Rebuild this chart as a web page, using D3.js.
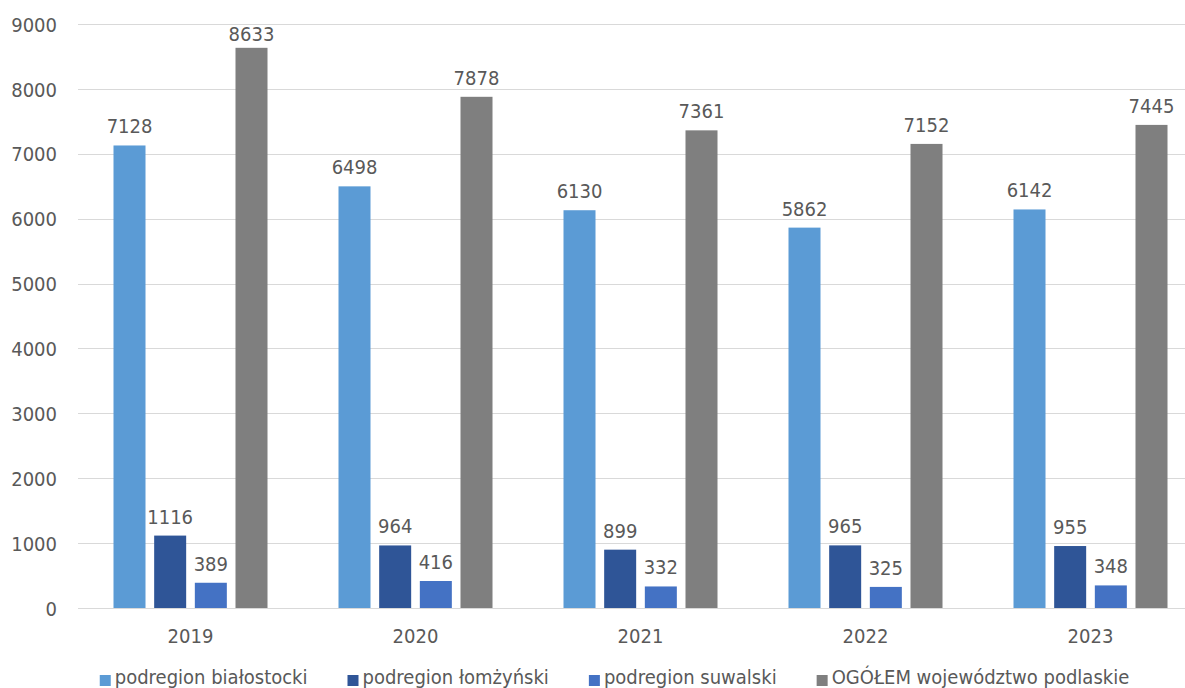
<!DOCTYPE html>
<html>
<head>
<meta charset="utf-8">
<script src="https://cdn.jsdelivr.net/npm/d3@7"></script>
<style>
  html, body { margin: 0; padding: 0; background: #ffffff; }
  svg { display: block; }
  text { font-family: "DejaVu Sans", Verdana, sans-serif; font-stretch: condensed; fill: #595959; }
</style>
</head>
<body>
<svg id="chart" width="1185" height="688"></svg>
<script>
// Years on the category axis
const years = ["2019", "2020", "2021", "2022", "2023"];

// Series names (legend order)
const seriesNames = [
  "podregion białostocki",
  "podregion łomżyński",
  "podregion suwalski",
  "OGÓŁEM województwo podlaskie"
];

// Values per series, one per year
const bialostocki = [7128, 6498, 6130, 5862, 6142];
const lomzynski   = [1116, 964, 899, 965, 955];
const suwalski    = [389, 416, 332, 325, 348];
const ogolem      = [8633, 7878, 7361, 7152, 7445];

// Y-axis ticks
const yTicks = [0, 1000, 2000, 3000, 4000, 5000, 6000, 7000, 8000, 9000];

const seriesColors = ["#5B9BD5", "#2F5597", "#4472C4", "#7F7F7F"];
const seriesValues = [bialostocki, lomzynski, suwalski, ogolem];

const svg = d3.select("#chart");
const plotTop = 24, plotBottom = 608;
const plotLeft = 78, plotRight = 1203;

const x0 = d3.scaleBand().domain(years).range([plotLeft, plotRight]).paddingInner(0).paddingOuter(0);
const groupW = 154;
const x1 = d3.scaleBand().domain(d3.range(seriesNames.length))
  .range([0, groupW]).paddingInner(0.213).paddingOuter(0);
const y = d3.scaleLinear().domain([0, 9000]).range([plotBottom, plotTop]);

const fontSize = 20;

// Gridlines
svg.append("g").selectAll("line").data(yTicks).join("line")
  .attr("x1", plotLeft).attr("x2", plotRight)
  .attr("y1", d => Math.round(y(d)) + 0.5).attr("y2", d => Math.round(y(d)) + 0.5)
  .attr("stroke", "#D9D9D9").attr("stroke-width", 1);

// Y axis labels
const yAxis = d3.axisLeft(y).tickValues(yTicks).tickSize(0).tickPadding(0).tickFormat(d3.format("d"));
const gy = svg.append("g").attr("transform", `translate(57,0)`).call(yAxis);
gy.select(".domain").remove();
gy.selectAll("text").attr("font-size", fontSize).attr("fill", "#595959")
  .style("font-family", "DejaVu Sans").attr("dy", "0.36em");

// Bars with value labels
const groups = svg.append("g").selectAll("g").data(years).join("g")
  .attr("transform", d => `translate(${x0(d) + (x0.bandwidth() - groupW) / 2},0)`);

groups.each(function(yr, i) {
  const g = d3.select(this);
  seriesValues.forEach((vals, s) => {
    const v = vals[i];
    g.append("rect")
      .attr("x", x1(s)).attr("width", x1.bandwidth())
      .attr("y", y(v)).attr("height", y(0) - y(v))
      .attr("fill", seriesColors[s]);
    g.append("text")
      .attr("x", x1(s) + x1.bandwidth() / 2)
      .attr("y", Math.max(y(v) - 12, 41))
      .attr("text-anchor", "middle")
      .attr("font-size", fontSize)
      .attr("fill", "#404040")
      .text(v);
  });
});

// X axis labels
const xAxis = d3.axisBottom(x0).tickSize(0).tickPadding(0);
const gx = svg.append("g").attr("transform", `translate(0,${plotBottom})`).call(xAxis);
gx.select(".domain").remove();
gx.selectAll("text").attr("font-size", fontSize).attr("fill", "#595959")
  .attr("y", 35).attr("dy", 0);

// Legend
const legend = svg.append("g");
const items = legend.selectAll("g").data(seriesNames).join("g");
items.append("rect").attr("width", 11).attr("height", 11).attr("y", -9)
  .attr("fill", (d, i) => seriesColors[i]);
items.append("text").attr("x", 15).attr("y", 0).attr("font-size", fontSize)
  .attr("fill", "#595959").text(d => d);
let widths = [];
items.each(function() { widths.push(this.getBBox().width); });
const gap = 40;
const total = d3.sum(widths) + gap * (widths.length - 1);
let cx = 614.5 - total / 2;
items.attr("transform", (d, i) => {
  const t = `translate(${cx},${684})`;
  cx += widths[i] + gap;
  return t;
});
</script>
</body>
</html>
